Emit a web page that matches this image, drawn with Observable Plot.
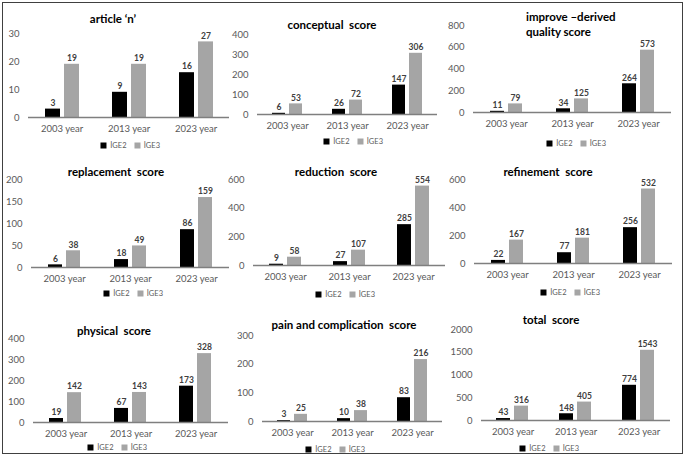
<!DOCTYPE html>
<html>
<head>
<meta charset="utf-8">
<script src="https://cdn.jsdelivr.net/npm/d3@7"></script>
<script src="https://cdn.jsdelivr.net/npm/@observablehq/plot@0.6"></script>
<style>
  body { margin: 0; background: #fff; }
  #page { position: relative; width: 685px; height: 457px; overflow: hidden; font-family: Lato, "Open Sans", sans-serif; }
  #frame { position: absolute; left: 2px; top: 2px; width: 679px; height: 450px; border: 1.5px solid #404040; }
  .panel-svg { position: absolute; }
  .title { position: absolute; font-weight: bold; font-size: 11.5px; color: #000; white-space: pre; line-height: 15px; }
  .legend { position: absolute; transform: translate(-50%, -50%); }
</style>
</head>
<body>
<div id="page"><div id="frame"></div></div>
<script>
// categories
const years = ["2003 year", "2013 year", "2023 year"];
const groups = ["İGE2", "İGE3"];
const colors = ["#000000", "#a5a5a5"];

// values per score (İGE2 / İGE3), one per year
const articleN_ige2 = [3, 9, 16];
const articleN_ige3 = [19, 19, 27];
const conceptual_ige2 = [6, 26, 147];
const conceptual_ige3 = [53, 72, 306];
const improve_ige2 = [11, 34, 264];
const improve_ige3 = [79, 125, 573];
const replacement_ige2 = [6, 18, 86];
const replacement_ige3 = [38, 49, 159];
const reduction_ige2 = [9, 27, 285];
const reduction_ige3 = [58, 107, 554];
const refinement_ige2 = [22, 77, 256];
const refinement_ige3 = [167, 181, 532];
const physical_ige2 = [19, 67, 173];
const physical_ige3 = [142, 143, 328];
const pain_ige2 = [3, 10, 83];
const pain_ige3 = [25, 38, 216];
const total_ige2 = [43, 148, 774];
const total_ige3 = [316, 405, 1543];

// y axis tick values
const articleN_ticks = [0, 10, 20, 30];
const conceptual_ticks = [0, 100, 200, 300, 400];
const improve_ticks = [0, 200, 400, 600, 800];
const replacement_ticks = [0, 50, 100, 150, 200];
const reduction_ticks = [0, 200, 400, 600];
const refinement_ticks = [0, 200, 400, 600];
const physical_ticks = [0, 100, 200, 300, 400];
const pain_ticks = [0, 100, 200, 300];
const total_ticks = [0, 500, 1000, 1500, 2000];

// layout of each panel on the page
const panels = [
  {title: "article ‘n’", a: articleN_ige2, b: articleN_ige3, ticks: articleN_ticks,
   axisX: 28, yTop: 33, y0: 117, xEnd: 229, tx: 113, ty: 18, lx: 134, ly: 145},
  {title: "conceptual  score", a: conceptual_ige2, b: conceptual_ige3, ticks: conceptual_ticks,
   axisX: 256, yTop: 34, y0: 114, xEnd: 438, tx: 332, ty: 24, lx: 357, ly: 141},
  {title: "improve –derived\nquality score", a: improve_ige2, b: improve_ige3, ticks: improve_ticks,
   axisX: 473, yTop: 25, y0: 112, xEnd: 671, tx: 526, ty: 17, left: true, lx: 580, ly: 143},
  {title: "replacement  score", a: replacement_ige2, b: replacement_ige3, ticks: replacement_ticks,
   axisX: 31, yTop: 179, y0: 267, xEnd: 229, tx: 116, ty: 171, lx: 137, ly: 293},
  {title: "reduction  score", a: reduction_ige2, b: reduction_ige3, ticks: reduction_ticks,
   axisX: 253, yTop: 179, y0: 265, xEnd: 445, tx: 336, ty: 171, lx: 349, ly: 294},
  {title: "refinement  score", a: refinement_ige2, b: refinement_ige3, ticks: refinement_ticks,
   axisX: 473, yTop: 179, y0: 263, xEnd: 672, tx: 548, ty: 171, lx: 574, ly: 292},
  {title: "physical  score", a: physical_ige2, b: physical_ige3, ticks: physical_ticks,
   axisX: 32, yTop: 338, y0: 422, xEnd: 228, tx: 114, ty: 330, lx: 121, ly: 447},
  {title: "pain and complication  score", a: pain_ige2, b: pain_ige3, ticks: pain_ticks,
   axisX: 262, yTop: 335, y0: 421, xEnd: 442, tx: 344, ty: 324, lx: 339, ly: 449},
  {title: "total  score", a: total_ige2, b: total_ige3, ticks: total_ticks,
   axisX: 481, yTop: 329, y0: 420, xEnd: 670, tx: 551, ty: 319, lx: 553, ly: 448},
];

const page = document.getElementById("page");
const ml = 34, mt = 10, mb = 22;

panels.forEach((p) => {
  const rows = years.flatMap((year, i) => [
    {year, group: groups[0], value: p.a[i]},
    {year, group: groups[1], value: p.b[i]},
  ]);
  const yMax = p.ticks[p.ticks.length - 1];

  const chart = Plot.plot({
    width: ml + (p.xEnd - p.axisX),
    height: mt + (p.y0 - p.yTop) + mb,
    marginLeft: ml,
    marginRight: 0,
    marginTop: mt,
    marginBottom: mb,
    style: {fontFamily: "Lato, 'Open Sans', sans-serif", fontSize: "9.5px", color: "#595959", background: "transparent", overflow: "visible"},
    fx: {domain: years, padding: 0, axis: "bottom", tickSize: 0, tickPadding: 8, label: null},
    x: {domain: groups, axis: null, paddingInner: 0.22, paddingOuter: 0.85},
    y: {domain: [0, yMax], axis: null},
    color: {domain: groups, range: colors},
    marks: [
      Plot.axisY({ticks: p.ticks, tickFormat: d3.format("d"), tickSize: 0, tickPadding: 9, label: null, line: true,
                  stroke: "#7f7f7f", strokeWidth: 1.5, fill: "#595959"}),
      Plot.barY(rows, {fx: "year", x: "group", y: "value", fill: "group"}),
      Plot.ruleY([0], {stroke: "#7f7f7f", strokeWidth: 1.5}),
      Plot.text(rows, {fx: "year", x: "group", y: "value", text: (d) => String(d.value),
                       dy: -6, fontWeight: "bold", fontSize: 8.5, fill: "#404040"}),
    ],
  });
  chart.classList.add("panel-svg");
  chart.style.left = (p.axisX - ml) + "px";
  chart.style.top = (p.yTop - mt) + "px";
  page.appendChild(chart);

  const t = document.createElement("div");
  t.className = "title";
  t.textContent = p.title;
  t.style.left = p.tx + "px";
  t.style.top = p.ty + "px";
  t.style.transform = p.left ? "translate(0, -8px)" : "translate(-50%, -50%)";
  page.appendChild(t);

  const leg = Plot.legend({
    color: {domain: groups, range: colors},
    legend: "swatches",
    swatchSize: 6,
    style: {fontFamily: "Lato, 'Open Sans', sans-serif", fontSize: "7.5px", color: "#595959", minHeight: "0px", margin: "0"},
  });
  const wrap = document.createElement("div");
  wrap.className = "legend";
  wrap.style.left = p.lx + "px";
  wrap.style.top = p.ly + "px";
  wrap.appendChild(leg);
  page.appendChild(wrap);
});
</script>
</body>
</html>
